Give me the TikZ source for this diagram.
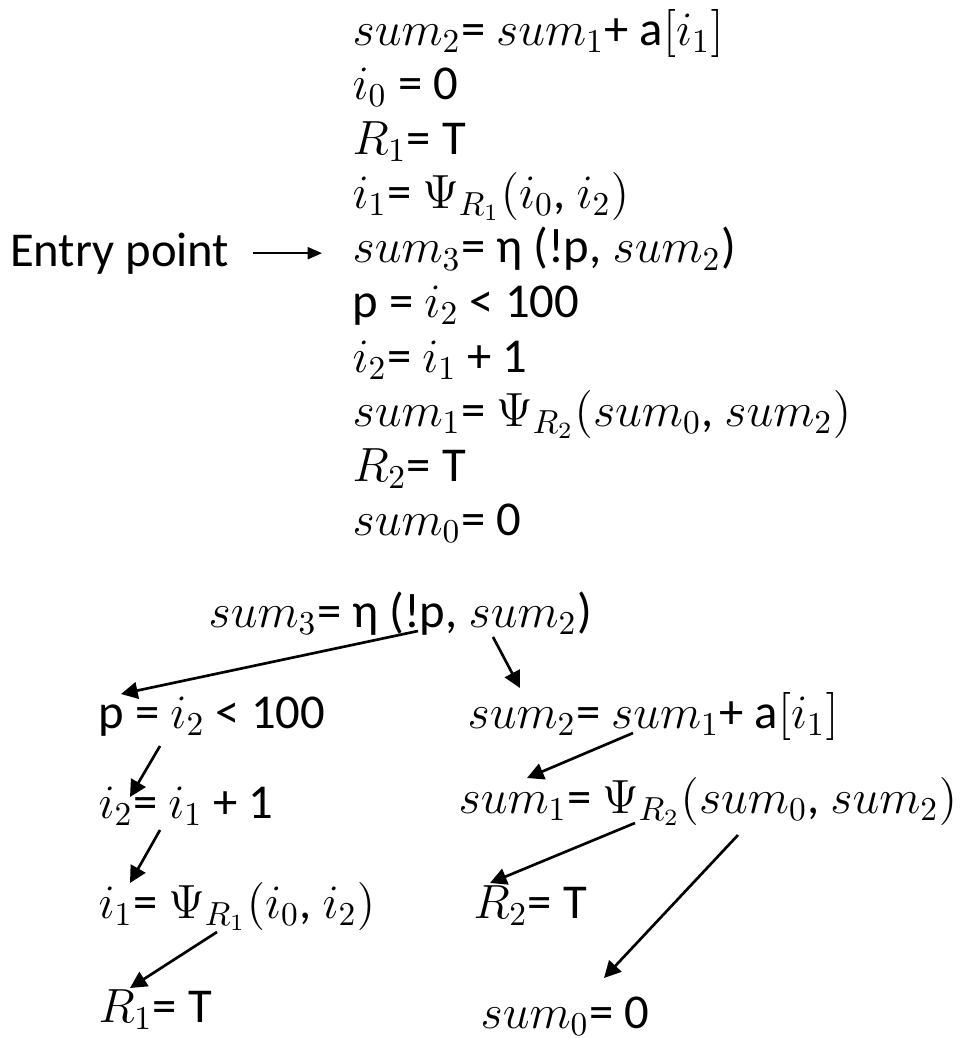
\documentclass[tikz,border=0pt]{standalone}
\usepackage[no-math]{fontspec}
\setmainfont{Carlito}
\usepackage{tikz}
\usetikzlibrary{arrows.meta, positioning}

\begin{document}
\begin{tikzpicture}[x=0.3pt, y=-0.3pt,
      code/.style={anchor=base west, inner sep=0pt, font=\fontsize{14.6}{17}\selectfont},
      arr/.style={-{Triangle[length=5pt, width=5pt]}, line width=0.8pt},
      entryarr/.style={-{Triangle[length=4.3pt, width=3.6pt]}, line width=0.6pt,
                       shorten <=7pt, shorten >=9pt}
    ]
      \useasboundingbox (0,0) rectangle (971,1038);
      % SSA listing
      \node[code] (top1) at (352,45) {$sum_2$= $sum_1$+ a$[i_1]$};
      \node[code, below=16.35pt of top1.base west, anchor=base west] (top2) {$i_0$ = 0};
      \node[code, below=16.35pt of top2.base west, anchor=base west] (top3) {$R_1$= T};
      \node[code, below=16.35pt of top3.base west, anchor=base west] (top4) {$i_1$= $\Psi_{R_1}(i_0$, $i_2)$};
      \node[code, below=16.35pt of top4.base west, anchor=base west] (top5) {$sum_3$= η (!p, $sum_2$)};
      \node[code, below=16.35pt of top5.base west, anchor=base west] (top6) {p = $i_2$ < 100};
      \node[code, below=16.35pt of top6.base west, anchor=base west] (top7) {$i_2$= $i_1$ + 1};
      \node[code, below=16.35pt of top7.base west, anchor=base west] (top8) {$sum_1$= $\Psi_{R_2}(sum_0$, $sum_2)$};
      \node[code, below=16.35pt of top8.base west, anchor=base west] (top9) {$R_2$= T};
      \node[code, below=16.35pt of top9.base west, anchor=base west] (top10) {$sum_0$= 0};
      \node[code, anchor=base east] (entry) at (230,266) {Entry point};
      \draw[entryarr] (entry.east) -- (entry.east -| top5.west);

      % dependence tree
      \node[code] (root) at (208,627) {$sum_3$= η (!p, $sum_2$)};
      \node[code] (pcmp) at (98,728) {p = $i_2$ < 100};
      \node[code] (sumtwo) at (467,728) {$sum_2$= $sum_1$+ a$[i_1]$};
      \node[code] (itwo) at (98,818) {$i_2$= $i_1$ + 1};
      \node[code] (sumone) at (458,813) {$sum_1$= $\Psi_{R_2}(sum_0$, $sum_2)$};
      \node[code] (ione) at (98,918) {$i_1$= $\Psi_{R_1}(i_0$, $i_2)$};
      \node[code] (rtwo) at (473,918) {$R_2$= T};
      \node[code] (rone) at (98,1022) {$R_1$= T};
      \node[code] (sumzero) at (480,1028) {$sum_0$= 0};

      \draw[arr] ([shift={(210,4)}]root.base west) -- ([shift={(23,-34)}]pcmp.base west);
      \draw[arr] ([shift={(285,10)}]root.base west) -- ([shift={(53,-40)}]sumtwo.base west);
      \draw[arr] ([shift={(62,18)}]pcmp.base west) -- ([shift={(32,-21)}]itwo.base west);
      \draw[arr] ([shift={(62,12)}]itwo.base west) -- ([shift={(32,-35)}]ione.base west);
      \draw[arr] ([shift={(119,14)}]ione.base west) -- ([shift={(32,-34)}]rone.base west);
      \draw[arr] ([shift={(166,5)}]sumtwo.base west) -- ([shift={(69,-35)}]sumone.base west);
      \draw[arr] ([shift={(177,10)}]sumone.base west) -- ([shift={(17,-35)}]rtwo.base west);
      \draw[arr] ([shift={(280,22)}]sumone.base west) -- ([shift={(124,-50)}]sumzero.base west);
    \end{tikzpicture}
\end{document}
